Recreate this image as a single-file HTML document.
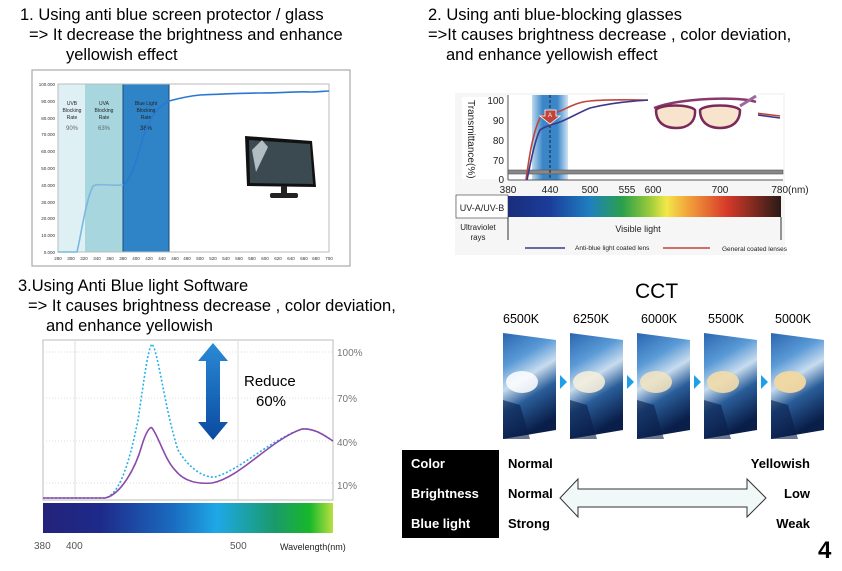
<!DOCTYPE html>
<html><head><meta charset="utf-8"><style>
html,body{margin:0;padding:0;background:#fff;}
svg{display:block;font-family:"Liberation Sans",Arial,sans-serif;}
</style></head><body>
<svg width="842" height="571" viewBox="0 0 842 571" xmlns="http://www.w3.org/2000/svg">
<defs>
<linearGradient id="spec" x1="0" x2="1" y1="0" y2="0">
<stop offset="0" stop-color="#1a2d7a"/><stop offset="0.15" stop-color="#1b3c9a"/><stop offset="0.3" stop-color="#1f7fc0"/><stop offset="0.42" stop-color="#2aa04a"/><stop offset="0.52" stop-color="#9ccb3a"/><stop offset="0.58" stop-color="#f2e84a"/><stop offset="0.66" stop-color="#f2a23a"/><stop offset="0.8" stop-color="#d83a2a"/><stop offset="1" stop-color="#2a1a16"/>
</linearGradient>
<linearGradient id="spec3" x1="0" x2="1" y1="0" y2="0">
<stop offset="0" stop-color="#23237a"/><stop offset="0.2" stop-color="#1e2a8a"/><stop offset="0.45" stop-color="#1a6cc0"/><stop offset="0.6" stop-color="#1ea8e6"/><stop offset="0.8" stop-color="#1a9a6a"/><stop offset="0.92" stop-color="#18b82a"/><stop offset="1" stop-color="#b8e040"/>
</linearGradient>
<linearGradient id="band" x1="0" x2="1">
<stop offset="0" stop-color="#bcd8ee"/><stop offset="0.3" stop-color="#3a86c8"/><stop offset="0.7" stop-color="#3a86c8"/><stop offset="1" stop-color="#cfe4f4"/>
</linearGradient>
<linearGradient id="arr" x1="0" x2="0" y1="0" y2="1">
<stop offset="0" stop-color="#2a8ad6"/><stop offset="1" stop-color="#0a4aa0"/>
</linearGradient>
<linearGradient id="img" x1="0" x2="0.3" y1="0" y2="1">
<stop offset="0" stop-color="#2a66b0"/><stop offset="0.3" stop-color="#5a9ad6"/><stop offset="0.5" stop-color="#c8dcee"/><stop offset="0.7" stop-color="#2a5e9a"/><stop offset="1" stop-color="#0a1e4a"/>
</linearGradient>
</defs>

<g font-size="16.5" fill="#000">
<text x="20" y="20">1. Using anti blue screen protector / glass</text>
<text x="29" y="40">=&gt; It decrease the brightness and enhance</text>
<text x="66" y="60">yellowish effect</text>
<text x="428" y="20">2. Using anti blue-blocking glasses</text>
<text x="428" y="40">=&gt;It causes brightness decrease , color deviation,</text>
<text x="446" y="60">and enhance yellowish effect</text>
<text x="18" y="291">3.Using Anti Blue light Software</text>
<text x="28" y="311">=&gt; It causes brightness decrease , color deviation,</text>
<text x="46" y="331">and enhance yellowish</text>
</g>

<!-- Chart 1 -->
<rect x="32" y="70" width="318" height="196" fill="#fff" stroke="#999"/>
<rect x="58" y="84" width="27" height="168" fill="#dff0f5"/>
<rect x="85" y="84" width="38" height="168" fill="#a8d6de"/>
<rect x="123" y="84" width="46" height="168" fill="#2f84c8" stroke="#1a4a7a"/>
<rect x="58" y="84" width="271" height="168" fill="none" stroke="#bbb"/>
<g font-size="4.5" fill="#333" text-anchor="end">
<text x="55" y="86">100.000</text><text x="55" y="103">90.000</text><text x="55" y="120">80.000</text><text x="55" y="136">70.000</text><text x="55" y="153">60.000</text><text x="55" y="170">50.000</text><text x="55" y="187">40.000</text><text x="55" y="204">30.000</text><text x="55" y="220">20.000</text><text x="55" y="237">10.000</text><text x="55" y="254">0.000</text>
</g>
<g font-size="4.5" fill="#333" text-anchor="middle">
<text x="58" y="260">280</text><text x="71" y="260">300</text><text x="84" y="260">320</text><text x="97" y="260">340</text><text x="110" y="260">360</text><text x="123" y="260">380</text><text x="136" y="260">400</text><text x="149" y="260">420</text><text x="162" y="260">440</text><text x="175" y="260">460</text><text x="187" y="260">480</text><text x="200" y="260">500</text><text x="213" y="260">520</text><text x="226" y="260">540</text><text x="239" y="260">560</text><text x="252" y="260">580</text><text x="265" y="260">600</text><text x="278" y="260">620</text><text x="291" y="260">640</text><text x="304" y="260">660</text><text x="316" y="260">680</text><text x="329" y="260">700</text>
</g>
<g font-size="5" fill="#222" text-anchor="middle">
<text x="72" y="105">UVB</text><text x="72" y="112">Blocking</text><text x="72" y="119">Rate</text><text x="72" y="130" font-size="6" fill="#666">90%</text>
<text x="104" y="105">UVA</text><text x="104" y="112">Blocking</text><text x="104" y="119">Rate</text><text x="104" y="130" font-size="6" fill="#666">63%</text>
<text x="146" y="105">Blue Light</text><text x="146" y="112">Blocking</text><text x="146" y="119">Rate</text><text x="146" y="130" font-size="6">38%</text>
</g>
<path d="M58,252 L77,252 C82,230 86,200 93,186 C98,183 110,186 123,185" fill="none" stroke="#7ab8e0" stroke-width="1.6"/>
<path d="M123,185 C135,178 140,140 148,125 C155,110 162,105 169,101 C180,98 190,96 200,95 C220,94 240,93 260,93 C285,93 300,91 310,92 C320,92 325,91 329,91" fill="none" stroke="#2a78d0" stroke-width="1.6"/>
<polygon points="245,136 312,141 316,187 247,186" fill="#111"/>
<polygon points="249,140 310,144 313,184 250,183" fill="#3a4a50"/>
<polygon points="252,150 262,140 268,147 256,172" fill="#cfd8e0" opacity="0.8"/>
<rect x="270" y="193" width="28" height="5" rx="2" fill="#222"/>
<rect x="281" y="186" width="6" height="8" fill="#222"/>

<!-- Chart 2 -->
<rect x="455" y="93" width="330" height="162" fill="#f6f6f6"/>
<rect x="462" y="97" width="44" height="82" fill="#fff"/>
<rect x="508" y="95" width="275" height="85" fill="#fff"/>
<rect x="532" y="95" width="36" height="85" fill="url(#band)"/>
<line x1="508" y1="95" x2="508" y2="180" stroke="#555"/>
<line x1="508" y1="180" x2="783" y2="180" stroke="#555"/>
<rect x="508" y="170" width="275" height="4" fill="#888" stroke="#555" stroke-width="0.6"/>
<line x1="550" y1="95" x2="550" y2="180" stroke="#222" stroke-dasharray="3,2"/>
<text transform="translate(468,100) rotate(90)" font-size="10" fill="#222">Transmittance(%)</text>
<g font-size="10" fill="#222" text-anchor="end">
<text x="504" y="104">100</text><text x="504" y="124">90</text><text x="504" y="144">80</text><text x="504" y="164">70</text><text x="504" y="183">0</text>
</g>
<g font-size="10" fill="#222" text-anchor="middle">
<text x="508" y="193">380</text><text x="550" y="193">440</text><text x="590" y="193">500</text><text x="627" y="193">555</text><text x="653" y="193">600</text><text x="720" y="193">700</text><text x="790" y="193">780(nm)</text>
</g>
<path d="M526,180 C530,150 534,130 540,118 C545,112 550,112 555,113 C565,110 575,102 590,101 C610,99 630,100 650,100 L780,116" fill="none" stroke="#c0443a" stroke-width="1.6"/>
<path d="M527,180 C531,160 535,140 540,130 C545,126 552,125 560,122 C570,118 580,112 590,108 C610,103 630,101 650,100 L780,118" fill="none" stroke="#3a3a8a" stroke-width="1.6"/>
<polygon points="545,110 556,110 556,116 560,116 550,124 540,116 545,116" fill="#c0443a" stroke="#fff" stroke-width="0.8"/>
<text x="550" y="117" font-size="6" fill="#fff" text-anchor="middle">A</text>
<rect x="648" y="93" width="110" height="50" fill="#fff"/>
<path d="M654,108 C680,98 740,96 756,102" fill="none" stroke="#8a3a6a" stroke-width="2.5"/>
<path d="M656,110 C660,104 690,104 695,110 C696,122 688,128 676,128 C664,128 656,122 656,110 Z" fill="#f8e4cc" stroke="#7a2a5a" stroke-width="2.5"/>
<path d="M700,110 C705,104 735,104 740,110 C740,122 732,128 720,128 C708,128 700,122 700,110 Z" fill="#f8e4cc" stroke="#7a2a5a" stroke-width="2.5"/>
<line x1="740" y1="106" x2="756" y2="96" stroke="#9a6a9a" stroke-width="3"/>
<rect x="456" y="195" width="52" height="23" fill="#fff" stroke="#333" stroke-width="0.6"/>
<text x="482" y="211" font-size="9" fill="#222" text-anchor="middle">UV-A/UV-B</text>
<rect x="508" y="196" width="273" height="21" fill="url(#spec)"/>
<line x1="508" y1="217" x2="508" y2="240" stroke="#333"/>
<line x1="781" y1="217" x2="781" y2="240" stroke="#333"/>
<text x="478" y="230" font-size="8" fill="#222" text-anchor="middle">Ultraviolet</text>
<text x="478" y="240" font-size="8" fill="#222" text-anchor="middle">rays</text>
<text x="638" y="232" font-size="9" fill="#222" text-anchor="middle">Visible light</text>
<line x1="525" y1="248" x2="565" y2="248" stroke="#3a3a8a" stroke-width="1.5"/>
<text x="575" y="250" font-size="6.5" fill="#222">Anti-blue light coated lens</text>
<line x1="663" y1="248" x2="710" y2="248" stroke="#c0443a" stroke-width="1.5"/>
<text x="722" y="251" font-size="6.5" fill="#222">General coated lenses</text>

<!-- Chart 3 -->
<rect x="43" y="340" width="290" height="160" fill="#fff" stroke="#bbb"/>
<line x1="75" y1="340" x2="75" y2="500" stroke="#ddd"/>
<line x1="238" y1="340" x2="238" y2="500" stroke="#ddd"/>
<g stroke="#ddd" stroke-dasharray="1,2">
<line x1="43" y1="352" x2="333" y2="352"/><line x1="43" y1="398" x2="333" y2="398"/><line x1="43" y1="441" x2="333" y2="441"/><line x1="43" y1="483" x2="333" y2="483"/>
</g>
<g font-size="10" fill="#777">
<text x="337" y="356">100%</text><text x="337" y="402">70%</text><text x="337" y="446">40%</text><text x="337" y="489">10%</text>
</g>
<path d="M43,498 L105,498 C118,495 128,470 138,420 C144,380 148,348 152,344 C158,350 165,410 178,450 C190,470 205,478 215,477 C240,470 270,440 302,429 C315,428 325,436 333,441" fill="none" stroke="#2ab0e8" stroke-width="1.6" stroke-dasharray="2,2"/>
<path d="M43,498 L105,498 C120,495 135,470 142,445 C146,432 150,426 152,428 C158,435 165,460 175,470 C185,483 200,484 212,483 C240,478 270,440 302,429 C315,428 325,436 333,441" fill="none" stroke="#8a4aaa" stroke-width="1.6"/>
<polygon points="213,343 228,361 220,361 220,422 228,422 213,440 198,422 206,422 206,361 198,361" fill="url(#arr)"/>
<text x="244" y="386" font-size="15" fill="#000">Reduce</text>
<text x="256" y="406" font-size="15" fill="#000">60%</text>
<rect x="43" y="503" width="290" height="30" fill="url(#spec3)"/>
<g font-size="10" fill="#555">
<text x="34" y="549">380</text><text x="66" y="549">400</text><text x="230" y="549">500</text>
<text x="280" y="550" font-size="9" fill="#222">Wavelength(nm)</text>
</g>

<!-- CCT -->
<text x="635" y="298" font-size="21" fill="#000">CCT</text>
<g font-size="12.5" fill="#000">
<text x="503" y="323">6500K</text><text x="573" y="323">6250K</text><text x="641" y="323">6000K</text><text x="708" y="323">5500K</text><text x="775" y="323">5000K</text>
</g>
<g>
<polygon points="503,333 556,340 556,430 503,439" fill="url(#img)"/>
<polygon points="570,333 623,340 623,430 570,439" fill="url(#img)"/>
<polygon points="637,333 690,340 690,430 637,439" fill="url(#img)"/>
<polygon points="704,333 757,340 757,430 704,439" fill="url(#img)"/>
<polygon points="771,333 824,340 824,430 771,439" fill="url(#img)"/>
<ellipse cx="522" cy="382" rx="16" ry="11" fill="#ffffff" opacity="0.85"/>
<ellipse cx="589" cy="382" rx="16" ry="11" fill="#f8f0dc" opacity="0.85"/>
<ellipse cx="656" cy="382" rx="16" ry="11" fill="#f2e4c0" opacity="0.85"/>
<ellipse cx="723" cy="382" rx="16" ry="11" fill="#f2dcaa" opacity="0.9"/>
<ellipse cx="790" cy="382" rx="16" ry="11" fill="#f2d8a0" opacity="0.95"/>
<polygon points="503,400 520,405 530,439 503,439" fill="#0a1e4a" opacity="0.6"/>
<polygon points="570,400 587,405 597,439 570,439" fill="#0a1e4a" opacity="0.6"/>
<polygon points="637,400 654,405 664,439 637,439" fill="#0a1e4a" opacity="0.6"/>
<polygon points="704,400 721,405 731,439 704,439" fill="#0a1e4a" opacity="0.6"/>
<polygon points="771,400 788,405 798,439 771,439" fill="#0a1e4a" opacity="0.6"/>
<polygon points="560,375 567,382 560,389" fill="#1ea0e8"/>
<polygon points="627,375 634,382 627,389" fill="#1ea0e8"/>
<polygon points="694,375 701,382 694,389" fill="#1ea0e8"/>
<polygon points="761,375 768,382 761,389" fill="#1ea0e8"/>
</g>

<rect x="402" y="450" width="97" height="88" fill="#000"/>
<g font-size="13" font-weight="bold">
<text x="411" y="468" fill="#fff">Color</text><text x="411" y="498" fill="#fff">Brightness</text><text x="411" y="528" fill="#fff">Blue light</text>
<text x="508" y="468">Normal</text><text x="508" y="498">Normal</text><text x="508" y="528">Strong</text>
<text x="810" y="468" text-anchor="end">Yellowish</text><text x="810" y="498" text-anchor="end">Low</text><text x="810" y="528" text-anchor="end">Weak</text>
</g>
<polygon points="560,498 578,479 578,489 747,489 747,479 766,498 747,517 747,507 578,507 578,517" fill="#f0f8f8" stroke="#333" stroke-width="1"/>
<text x="818" y="558" font-size="24" font-weight="bold">4</text>
</svg>
</body></html>
